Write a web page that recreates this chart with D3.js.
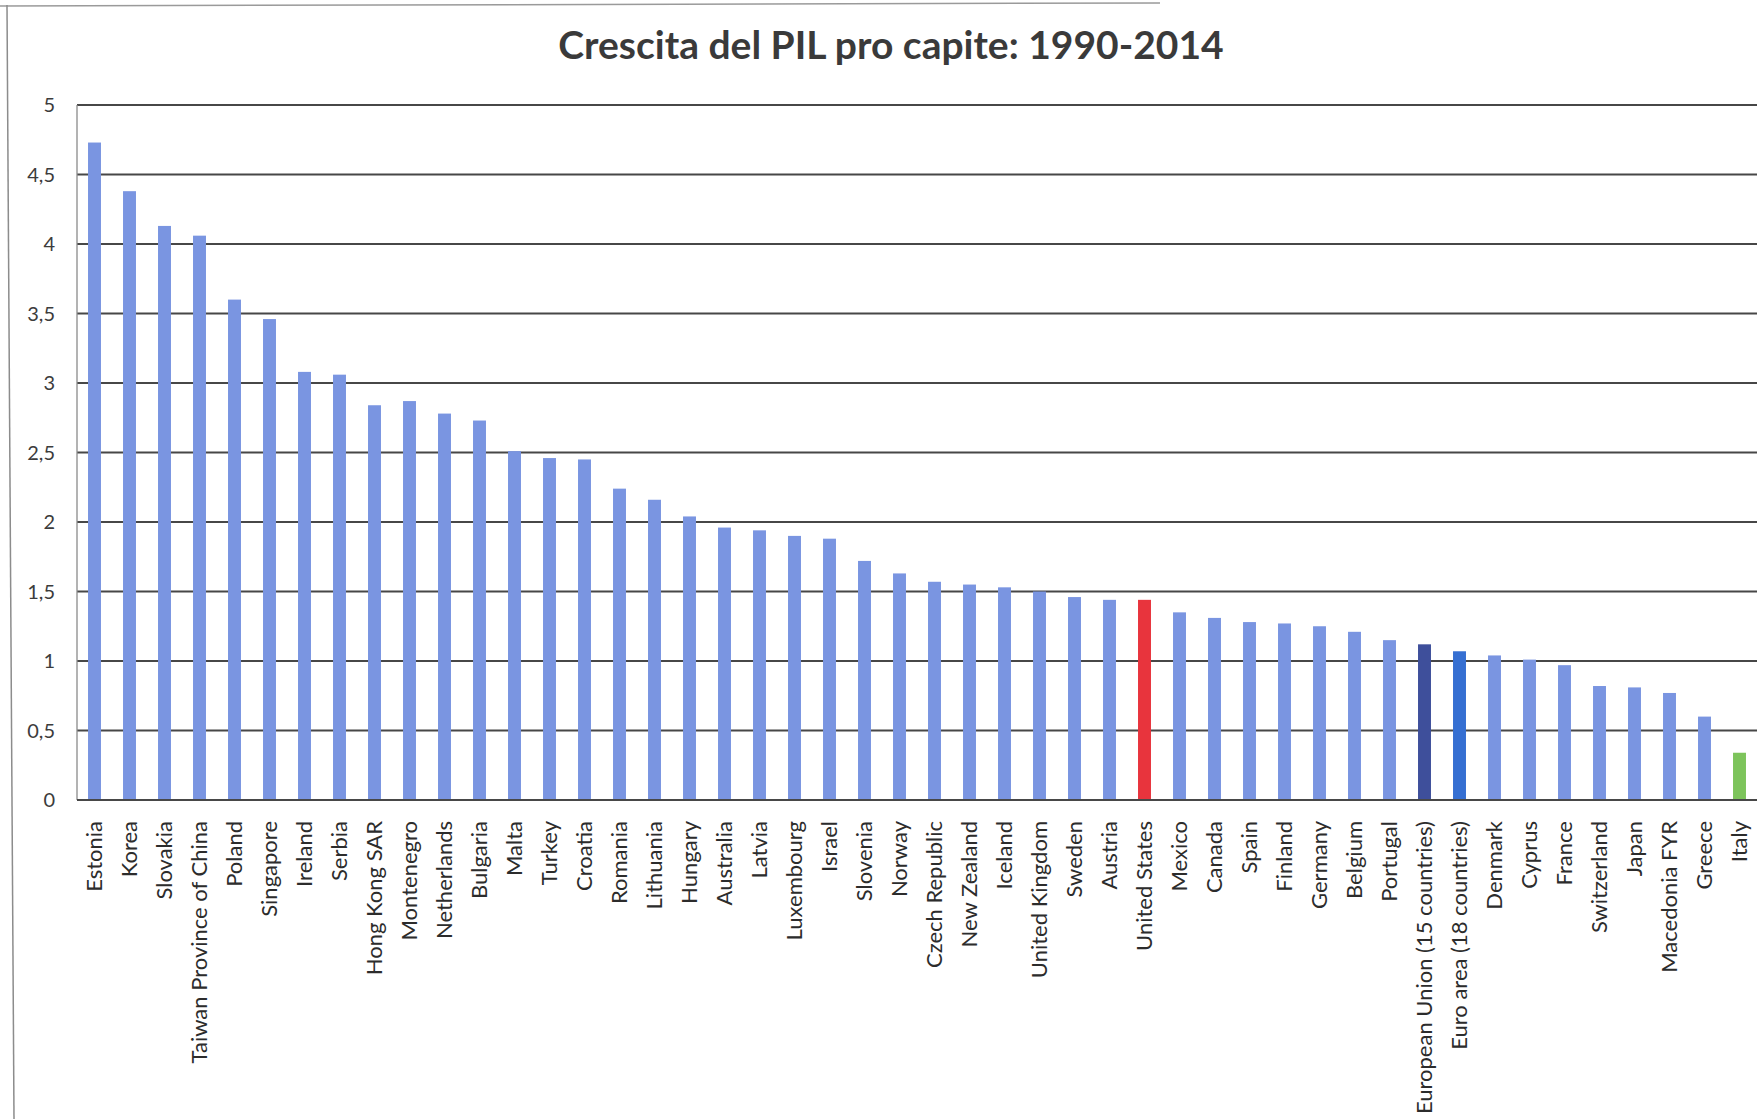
<!DOCTYPE html>
<html>
<head>
<meta charset="utf-8">
<script src="https://cdn.jsdelivr.net/npm/d3@7"></script>
<style>
  html, body { margin: 0; padding: 0; background: #ffffff; }
  svg { display: block; }
</style>
</head>
<body>
<svg id="chart" width="1761" height="1119"></svg>
<script>
// Real GDP per capita growth, average annual %, 1990-2014
const countries = [
  "Estonia", "Korea", "Slovakia", "Taiwan Province of China", "Poland", "Singapore",
  "Ireland", "Serbia", "Hong Kong SAR", "Montenegro", "Netherlands", "Bulgaria",
  "Malta", "Turkey", "Croatia", "Romania", "Lithuania", "Hungary", "Australia",
  "Latvia", "Luxembourg", "Israel", "Slovenia", "Norway", "Czech Republic",
  "New Zealand", "Iceland", "United Kingdom", "Sweden", "Austria", "United States",
  "Mexico", "Canada", "Spain", "Finland", "Germany", "Belgium", "Portugal",
  "European Union (15 countries)", "Euro area (18 countries)", "Denmark", "Cyprus",
  "France", "Switzerland", "Japan", "Macedonia FYR", "Greece", "Italy"
];

const growth = [
  4.73, 4.38, 4.13, 4.06, 3.60, 3.46,
  3.08, 3.06, 2.84, 2.87, 2.78, 2.73,
  2.51, 2.46, 2.45, 2.24, 2.16, 2.04, 1.96,
  1.94, 1.90, 1.88, 1.72, 1.63, 1.57,
  1.55, 1.53, 1.50, 1.46, 1.44, 1.44,
  1.35, 1.31, 1.28, 1.27, 1.25, 1.21, 1.15,
  1.12, 1.07, 1.04, 1.01,
  0.97, 0.82, 0.81, 0.77, 0.60, 0.34
];

const yTicks = [0, 0.5, 1, 1.5, 2, 2.5, 3, 3.5, 4, 4.5, 5];

const titleText = "Crescita del PIL pro capite: 1990-2014";

// Bars that stand out from the default colour
const accent = {
  "United States": "#e8343d",
  "European Union (15 countries)": "#3e4f9b",
  "Euro area (18 countries)": "#356fd2",
  "Italy": "#7dc45b"
};
const barColor = "#7a95e1";

const svg = d3.select("#chart");
const W = 1761, H = 1119;
const margin = { left: 77, right: 4, top: 105, bottom: 321 };
const font = "Lato, 'Open Sans', sans-serif";

svg.append("rect").attr("width", W).attr("height", H).attr("fill", "#ffffff");

// chart frame edges
svg.append("path")
  .attr("d", d3.line()([[0, 6], [1160, 3]]))
  .attr("stroke", "#9a9a9a").attr("stroke-width", 1.5).attr("fill", "none");
svg.append("path")
  .attr("d", d3.line()([[7, 5], [14, H]]))
  .attr("stroke", "#8c8c8c").attr("stroke-width", 1.5).attr("fill", "none");

const x = d3.scaleBand()
  .domain(countries)
  .range([margin.left, W - margin.right])
  .paddingInner(0.63)
  .paddingOuter(0.315);

const y = d3.scaleLinear()
  .domain([0, 5])
  .range([H - margin.bottom + 2, margin.top]);

const itFormat = d3.formatLocale({ decimal: ",", thousands: ".", grouping: [3], currency: ["€", ""] }).format(",~g");

// horizontal gridlines
svg.append("g")
  .selectAll("line")
  .data(yTicks)
  .join("line")
  .attr("x1", margin.left)
  .attr("x2", W - margin.right)
  .attr("y1", d => y(d))
  .attr("y2", d => y(d))
  .attr("stroke", "#474747")
  .attr("stroke-width", 1.8);

// vertical axis line
svg.append("line")
  .attr("x1", margin.left).attr("x2", margin.left)
  .attr("y1", y(5)).attr("y2", y(0))
  .attr("stroke", "#8a8a8a").attr("stroke-width", 1.3);

// y tick labels
svg.append("g")
  .selectAll("text")
  .data(yTicks)
  .join("text")
  .attr("x", 55)
  .attr("y", d => y(d))
  .attr("dy", "0.35em")
  .attr("text-anchor", "end")
  .attr("font-family", font)
  .attr("font-size", 20)
  .attr("fill", "#3c3c3c")
  .text(d => itFormat(d));

// bars
svg.append("g")
  .selectAll("rect")
  .data(countries)
  .join("rect")
  .attr("x", d => x(d))
  .attr("width", x.bandwidth())
  .attr("y", (d, i) => y(growth[i]))
  .attr("height", (d, i) => y(0) - y(growth[i]))
  .attr("fill", d => accent[d] || barColor);

// redraw baseline on top of bars
svg.append("line")
  .attr("x1", margin.left).attr("x2", W - margin.right)
  .attr("y1", y(0)).attr("y2", y(0))
  .attr("stroke", "#474747").attr("stroke-width", 1.8);

// rotated category labels
svg.append("g")
  .selectAll("text")
  .data(countries)
  .join("text")
  .attr("transform", d => `translate(${x(d) + x.bandwidth() / 2}, 821) rotate(-90)`)
  .attr("dy", "0.35em")
  .attr("text-anchor", "end")
  .attr("font-family", font)
  .attr("font-size", 22)
  .attr("fill", "#2c2c2c")
  .text(d => d);

// title
svg.append("text")
  .attr("x", 891)
  .attr("y", 59)
  .attr("text-anchor", "middle")
  .attr("font-family", font)
  .attr("font-weight", "bold")
  .attr("font-size", 39)
  .attr("fill", "#3a3a3a")
  .text(titleText);
</script>
</body>
</html>
